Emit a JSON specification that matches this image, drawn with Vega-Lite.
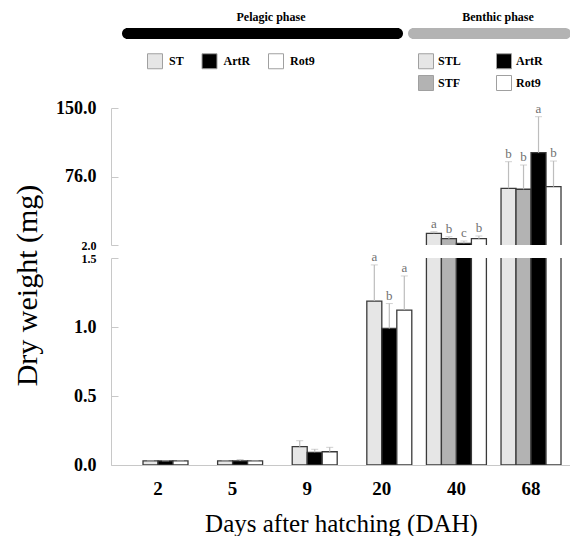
{
  "$schema": "https://vega.github.io/schema/vega-lite/v6.json",
  "padding": {"left": 11, "top": 11, "right": 0, "bottom": 0},
  "background": "white",
  "datasets": {
    "phases": [
      {"phase": "Pelagic phase"},
      {"phase": "Benthic phase"}
    ],
    "pelagic": [
      {"dah": 2, "trt": "ST", "mean": 0.03, "hi": 0.03, "sig": ""},
      {"dah": 2, "trt": "ArtR", "mean": 0.03, "hi": 0.03, "sig": ""},
      {"dah": 2, "trt": "Rot9", "mean": 0.03, "hi": 0.03, "sig": ""},
      {"dah": 5, "trt": "ST", "mean": 0.03, "hi": 0.03, "sig": ""},
      {"dah": 5, "trt": "ArtR", "mean": 0.03, "hi": 0.04, "sig": ""},
      {"dah": 5, "trt": "Rot9", "mean": 0.03, "hi": 0.03, "sig": ""},
      {"dah": 9, "trt": "ST", "mean": 0.133, "hi": 0.176, "sig": ""},
      {"dah": 9, "trt": "ArtR", "mean": 0.092, "hi": 0.114, "sig": ""},
      {"dah": 9, "trt": "Rot9", "mean": 0.096, "hi": 0.128, "sig": ""},
      {"dah": 20, "trt": "ST", "mean": 1.188, "hi": 1.45, "sig": "a"},
      {"dah": 20, "trt": "ArtR", "mean": 0.99, "hi": 1.17, "sig": "b"},
      {"dah": 20, "trt": "Rot9", "mean": 1.123, "hi": 1.37, "sig": "a"}
    ],
    "benthic": [
      {"dah": 40, "trt": "STL", "mean": 14.6, "hi": 16.4, "sig": "a"},
      {"dah": 40, "trt": "STF", "mean": 8.8, "hi": 11.0, "sig": "b"},
      {"dah": 40, "trt": "ArtR", "mean": 3.8, "hi": 6.3, "sig": "c"},
      {"dah": 40, "trt": "Rot9", "mean": 8.8, "hi": 11.7, "sig": "b"},
      {"dah": 68, "trt": "STL", "mean": 63.2, "hi": 92.0, "sig": "b"},
      {"dah": 68, "trt": "STF", "mean": 62.2, "hi": 88.4, "sig": "b"},
      {"dah": 68, "trt": "ArtR", "mean": 101.7, "hi": 140.6, "sig": "a"},
      {"dah": 68, "trt": "Rot9", "mean": 65.0, "hi": 92.7, "sig": "b"}
    ]
  },
  "bounds": "flush",
  "vconcat": [
    {
      "width": 460,
      "height": 11,
      "data": {"name": "phases"},
      "encoding": {
        "x": {"field": "phase", "type": "nominal", "scale": {"type": "band", "domain": ["Pelagic phase", "Benthic phase"], "range": [38, 492], "paddingInner": 0, "paddingOuter": 0}, "axis": null}
      },
      "layer": [
        {
          "transform": [{"filter": "datum.phase === 'Pelagic phase'"}],
          "mark": {"type": "bar", "width": 281, "color": "#000000", "cornerRadius": 5.5}
        },
        {
          "transform": [{"filter": "datum.phase === 'Benthic phase'"}],
          "mark": {"type": "bar", "width": 163, "color": "#b3b3b3", "cornerRadius": 5.5}
        },
        {
          "mark": {"type": "text", "font": "Liberation Serif", "fontWeight": "bold", "fontSize": 12, "dy": -16.5, "dx": 8.5, "baseline": "middle", "color": "#000"},
          "encoding": {"text": {"field": "phase"}}
        }
      ]
    },
    {
      "bounds": "flush",
      "vconcat": [
        {
          "width": 460,
          "height": 137,
          "encoding": {
            "x": {"field": "dah", "type": "ordinal", "scale": {"domain": [2, 5, 9, 20, 40, 68], "paddingInner": 0.196, "paddingOuter": 0.181, "align": 0.63}, "axis": null},
            "y": {"field": "mean", "type": "quantitative", "scale": {"domain": [2, 150], "nice": false, "zero": false},
                  "axis": {"values": [2, 76, 150], "format": ".1f", "labelFontSize": {"condition": {"test": "datum.value === 2", "value": 12}, "value": 18}, "tickSize": -7, "labelPadding": 22, "title": null}}
          },
          "layer": [
            {
              "data": {"name": "pelagic"},
              "encoding": {
                "xOffset": {"field": "trt", "type": "nominal", "scale": {"domain": ["ST", "ArtR", "Rot9"], "paddingInner": 0, "paddingOuter": 0.5, "align": 1}},
                "color": {"field": "trt", "type": "nominal", "scale": {"domain": ["ST", "ArtR", "Rot9"], "range": ["#e6e6e6", "#000000", "#ffffff"]},
                  "legend": {"orient": "none", "legendX": 36, "legendY": -55, "direction": "horizontal", "columns": 3, "title": null, "padding": 0,
                    "symbolType": "square", "symbolSize": 225, "symbolStrokeColor": "#a0a0a0", "symbolStrokeWidth": 1,
                    "labelFont": "Liberation Serif", "labelFontWeight": "bold", "labelFontSize": 12, "labelColor": "#000", "labelOffset": 6, "columnPadding": 15.5}}
              },
              "layer": [
                {"mark": {"type": "bar", "stroke": "#3a3a3a", "strokeWidth": 1.3, "clip": true}}
              ]
            },
            {
              "data": {"name": "benthic"},
              "encoding": {
                "xOffset": {"field": "trt", "type": "nominal", "scale": {"domain": ["STL", "STF", "ArtR", "Rot9"], "paddingInner": 0, "paddingOuter": 0}},
                "color": {"field": "trt", "type": "nominal", "scale": {"domain": ["STL", "ArtR", "STF", "Rot9"], "range": ["#e6e6e6", "#000000", "#b3b3b3", "#ffffff"]},
                  "legend": {"orient": "none", "legendX": 307, "legendY": -55, "direction": "horizontal", "columns": 2, "title": null, "padding": 0,
                    "symbolType": "square", "symbolSize": 225, "symbolStrokeColor": "#a0a0a0", "symbolStrokeWidth": 1, "rowPadding": 2,
                    "labelFont": "Liberation Serif", "labelFontWeight": "bold", "labelFontSize": 12, "labelColor": "#000", "labelOffset": 4, "columnPadding": 33}}
              },
              "layer": [
                {"mark": {"type": "bar", "stroke": "#3a3a3a", "strokeWidth": 1.3, "clip": true}},
                {"mark": {"type": "rule", "strokeWidth": 1.2, "clip": true}, "encoding": {"y2": {"field": "hi"}, "color": {"value": "#bdbdbd"}}},
                {"mark": {"type": "tick", "orient": "horizontal", "size": 7, "thickness": 1, "clip": true}, "encoding": {"y": {"field": "hi", "type": "quantitative"}, "color": {"value": "#bdbdbd"}}},
                {"mark": {"type": "text", "font": "Liberation Serif", "fontSize": 13, "baseline": "alphabetic", "dy": -4}, "encoding": {"y": {"field": "hi", "type": "quantitative"}, "text": {"field": "sig"}, "color": {"value": "#707070"}}}
              ]
            }
          ],
          "resolve": {"scale": {"color": "independent", "xOffset": "independent"}}
        },
        {
          "width": 460,
          "height": 207,
          "encoding": {
            "x": {"field": "dah", "type": "ordinal", "scale": {"domain": [2, 5, 9, 20, 40, 68], "paddingInner": 0.196, "paddingOuter": 0.181, "align": 0.63},
                  "axis": {"labelFontSize": 19, "labelAngle": 0, "ticks": false, "labelPadding": 14, "title": "Days after hatching (DAH)", "titleFontSize": 25, "titlePadding": 13}},
            "y": {"field": "mean", "type": "quantitative", "scale": {"domain": [0, 1.5], "nice": false},
                  "axis": {"values": [0, 0.5, 1, 1.5], "format": ".1f", "labelFontSize": {"condition": {"test": "datum.value === 1.5", "value": 12}, "value": 18}, "tickSize": -7, "labelPadding": 22,
                           "title": "Dry weight (mg)", "titleFontSize": 30, "titleX": -75, "titleY": 27, "titleBaseline": "alphabetic", "titleAlign": "center"}}
          },
          "layer": [
            {
              "data": {"name": "pelagic"},
              "encoding": {
                "xOffset": {"field": "trt", "type": "nominal", "scale": {"domain": ["ST", "ArtR", "Rot9"], "paddingInner": 0, "paddingOuter": 0.5, "align": 1}},
                "color": {"field": "trt", "type": "nominal", "scale": {"domain": ["ST", "ArtR", "Rot9"], "range": ["#e6e6e6", "#000000", "#ffffff"]}, "legend": null}
              },
              "layer": [
                {"mark": {"type": "bar", "stroke": "#3a3a3a", "strokeWidth": 1.3, "clip": true}},
                {"mark": {"type": "rule", "strokeWidth": 1.2, "clip": true}, "encoding": {"y2": {"field": "hi"}, "color": {"value": "#bdbdbd"}}},
                {"mark": {"type": "tick", "orient": "horizontal", "size": 7, "thickness": 1, "clip": true}, "encoding": {"y": {"field": "hi", "type": "quantitative"}, "color": {"value": "#bdbdbd"}}},
                {"transform": [{"filter": "datum.sig !== ''"}], "mark": {"type": "text", "font": "Liberation Serif", "fontSize": 13, "baseline": "alphabetic", "dy": -4}, "encoding": {"y": {"field": "hi", "type": "quantitative"}, "text": {"field": "sig"}, "color": {"value": "#707070"}}}
              ]
            },
            {
              "data": {"name": "benthic"},
              "encoding": {
                "xOffset": {"field": "trt", "type": "nominal", "scale": {"domain": ["STL", "STF", "ArtR", "Rot9"], "paddingInner": 0, "paddingOuter": 0}},
                "color": {"field": "trt", "type": "nominal", "scale": {"domain": ["STL", "ArtR", "STF", "Rot9"], "range": ["#e6e6e6", "#000000", "#b3b3b3", "#ffffff"]}, "legend": null}
              },
              "layer": [
                {"mark": {"type": "bar", "stroke": "#3a3a3a", "strokeWidth": 1.3, "clip": true}}
              ]
            }
          ],
          "resolve": {"scale": {"color": "independent", "xOffset": "independent"}}
        }
      ],
      "spacing": 13,
      "resolve": {"scale": {"x": "shared", "y": "independent", "color": "independent", "xOffset": "independent"}}
    }
  ],
  "spacing": 69,
  "resolve": {"scale": {"x": "independent", "color": "independent", "xOffset": "independent"}},
  "config": {
    "view": {"stroke": null},
    "axis": {"labelFont": "Liberation Serif", "titleFont": "Liberation Serif", "labelFontWeight": "bold", "labelColor": "#000", "titleColor": "#000", "titleFontWeight": "normal", "domainColor": "#c8c8c8", "tickColor": "#c8c8c8", "grid": false}
  }
}
